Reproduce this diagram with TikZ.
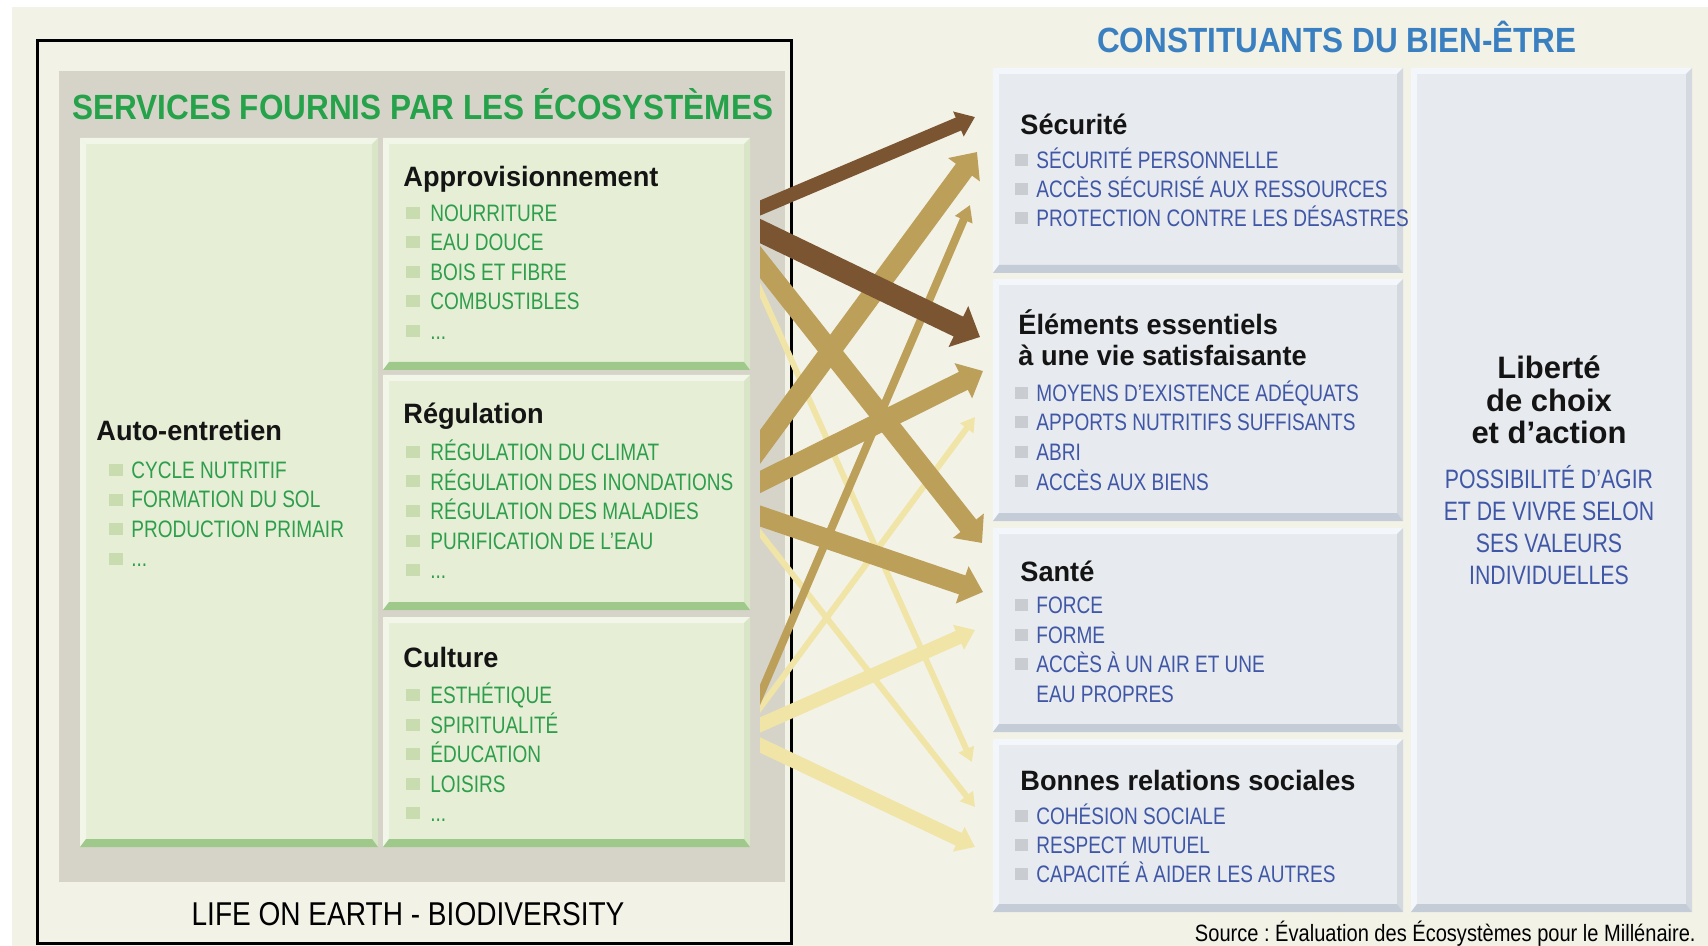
\documentclass[tikz,border=0pt]{standalone}
\usepackage{fontspec}
\setmainfont{Liberation Sans}
\newfontfamily\condfont[FakeStretch=0.8]{Liberation Sans}
\newfontfamily\titlefont[FakeStretch=0.9]{Liberation Sans}
\newfontfamily\headfont[FakeStretch=0.97]{Liberation Sans}
\newfontfamily\lifefont[FakeStretch=0.85]{Liberation Sans}
\usetikzlibrary{arrows.meta}
\frenchspacing

\definecolor{cream}{HTML}{F3F2E7}
\definecolor{panelgray}{HTML}{D6D4C8}
\definecolor{greenface}{HTML}{E6EFD6}
\definecolor{greenlight}{HTML}{F1F6E8}
\definecolor{greenside}{HTML}{D8E5C6}
\definecolor{greendark}{HTML}{9FC88B}
\definecolor{greenbullet}{HTML}{C8DCB0}
\definecolor{greentext}{HTML}{2E9E4C}
\definecolor{greentitle}{HTML}{25A24A}
\definecolor{blueface}{HTML}{E7EAEE}
\definecolor{bluelight}{HTML}{F3F6FA}
\definecolor{blueside}{HTML}{D4D9DF}
\definecolor{bluedark}{HTML}{C3CCD7}
\definecolor{bluebullet}{HTML}{C9CDD2}
\definecolor{bluetext}{HTML}{3F57A6}
\definecolor{bluetitle}{HTML}{3A80C0}
\definecolor{brownarrow}{HTML}{7B5532}
\definecolor{tanarrow}{HTML}{BC9F58}
\definecolor{palearrow}{HTML}{F0E4A6}

\newcommand{\threedots}{...}

% bevelled box: x1,y1,x2,y2,face,light,side,dark
\newcommand{\bevelbox}[8]{%
  \fill[#5] (#1,#2) rectangle (#3,#4);
  \fill[#6] (#1,#2) -- (#3,#2) -- (#3-6,#2+6) -- (#1+6,#2+6) -- cycle;
  \fill[#6] (#1,#2) -- (#1+6,#2+6) -- (#1+6,#4-8) -- (#1,#4) -- cycle;
  \fill[#7] (#3,#2) -- (#3,#4) -- (#3-6,#4-8) -- (#3-6,#2+6) -- cycle;
  \fill[#8] (#1,#4) -- (#1+6,#4-8) -- (#3-6,#4-8) -- (#3,#4) -- cycle;
}

\tikzset{
  bigtitle/.style={inner sep=0pt, font=\titlefont\fontsize{17.5}{20}\selectfont\bfseries},
  heading/.style={anchor=base west, inner sep=0pt, text=black!92, font=\headfont\fontsize{14}{16}\selectfont\bfseries},
  greenitem/.style={anchor=base west, inner sep=0pt, text=greentext, font=\condfont\fontsize{11.9}{14}\selectfont},
  blueitem/.style={anchor=base west, inner sep=0pt, text=bluetext, font=\condfont\fontsize{11.9}{14}\selectfont},
  bigarrow/.style={line width=10pt, shorten <=-8pt, -{Triangle[length=11pt,width=19pt]}},
  brownbig/.style={line width=11pt, shorten <=-8pt, -{Triangle[length=12pt,width=22pt]}},
  midarrow/.style={line width=7pt, shorten <=-8pt, -{Triangle[length=9pt,width=13pt]}},
  smallarrow/.style={line width=4pt, shorten <=-8pt, -{Triangle[length=8pt,width=9pt]}},
  thinarrow/.style={line width=3pt, shorten <=-8pt, -{Triangle[length=7pt,width=8pt]}}
}

\begin{document}
\begin{tikzpicture}[x=0.5pt,y=-0.5pt]
\useasboundingbox (0,0) rectangle (1708,946);
\fill[white] (0,0) rectangle (1708,946);
\fill[cream] (12,7) rectangle (1708,946);

% services fournis par les ecosystemes
\draw[line width=1.5pt] (37,41) rectangle (791,943);
\fill[panelgray] (59,71) rectangle (785,882);
\node[bigtitle, text=greentitle, anchor=base west] (services) at (72,120) {SERVICES FOURNIS PAR LES ÉCOSYSTÈMES};
\node[inner sep=0pt, anchor=base, font=\lifefont\fontsize{16.5}{18}\selectfont] (life) at (408,925) {LIFE ON EARTH - BIODIVERSITY};

\bevelbox{80}{138}{378}{847}{greenface}{greenlight}{greenside}{greendark}
\bevelbox{383}{138}{750}{370}{greenface}{greenlight}{greenside}{greendark}
\bevelbox{383}{375}{750}{610}{greenface}{greenlight}{greenside}{greendark}
\bevelbox{383}{617}{750}{847}{greenface}{greenlight}{greenside}{greendark}

\node[heading] (auto) at (96,441) {Auto-entretien};
\foreach \t [count=\i from 0] in {CYCLE NUTRITIF,FORMATION DU SOL,PRODUCTION PRIMAIR,\threedots} {
  \fill[greenbullet] (109,{464+29.5*\i}) rectangle (123,{476+29.5*\i});
  \node[greenitem] (auto-\i) at (131,{478.5+29.5*\i}) {\t};
}

\node[heading] (appro) at (403,187) {Approvisionnement};
\foreach \t [count=\i from 0] in {NOURRITURE,EAU DOUCE,BOIS ET FIBRE,COMBUSTIBLES,\threedots} {
  \fill[greenbullet] (406,{207+29.5*\i}) rectangle (420,{219+29.5*\i});
  \node[greenitem] (appro-\i) at (430,{221.5+29.5*\i}) {\t};
}

\node[heading] (regul) at (403,424) {Régulation};
\foreach \t [count=\i from 0] in {RÉGULATION DU CLIMAT,RÉGULATION DES INONDATIONS,RÉGULATION DES MALADIES,PURIFICATION DE L’EAU,\threedots} {
  \fill[greenbullet] (406,{446+29.5*\i}) rectangle (420,{458+29.5*\i});
  \node[greenitem] (regul-\i) at (430,{460.5+29.5*\i}) {\t};
}

\node[heading] (culture) at (403,667) {Culture};
\foreach \t [count=\i from 0] in {ESTHÉTIQUE,SPIRITUALITÉ,ÉDUCATION,LOISIRS,\threedots} {
  \fill[greenbullet] (406,{689+29.5*\i}) rectangle (420,{701+29.5*\i});
  \node[greenitem] (culture-\i) at (430,{703.5+29.5*\i}) {\t};
}

% constituants du bien-etre
\node[bigtitle, text=bluetitle, anchor=base east] (bienetre) at (1577,53) {CONSTITUANTS DU BIEN-ÊTRE};

\bevelbox{993}{68}{1403}{273}{blueface}{bluelight}{blueside}{bluedark}
\bevelbox{993}{279}{1403}{521}{blueface}{bluelight}{blueside}{bluedark}
\bevelbox{993}{528}{1403}{732}{blueface}{bluelight}{blueside}{bluedark}
\bevelbox{993}{739}{1403}{912}{blueface}{bluelight}{blueside}{bluedark}
\bevelbox{1411}{68}{1692}{912}{blueface}{bluelight}{blueside}{bluedark}

\node[heading] (secu) at (1020,135) {Sécurité};
\foreach \t [count=\i from 0] in {SÉCURITÉ PERSONNELLE,ACCÈS SÉCURISÉ AUX RESSOURCES,PROTECTION CONTRE LES DÉSASTRES} {
  \fill[bluebullet] (1015,{154+29*\i}) rectangle (1028,{166+29*\i});
  \node[blueitem] (secu-\i) at (1036,{168.5+29*\i}) {\t};
}

\node[heading] (elem) at (1018,335) {Éléments essentiels};
\node[heading] (elem-b) at (1018,366) {à une vie satisfaisante};
\foreach \t [count=\i from 0] in {MOYENS D’EXISTENCE ADÉQUATS,APPORTS NUTRITIFS SUFFISANTS,ABRI,ACCÈS AUX BIENS} {
  \fill[bluebullet] (1015,{387+29.5*\i}) rectangle (1028,{399+29.5*\i});
  \node[blueitem] (elem-\i) at (1036,{401.5+29.5*\i}) {\t};
}

\node[heading] (sante) at (1020,581) {Santé};
\foreach \t [count=\i from 0] in {FORCE,FORME,ACCÈS À UN AIR ET UNE} {
  \fill[bluebullet] (1015,{599+29.5*\i}) rectangle (1028,{611+29.5*\i});
  \node[blueitem] (sante-\i) at (1036,{613.5+29.5*\i}) {\t};
}
\node[blueitem] (sante-3) at (1036,702) {EAU PROPRES};

\node[heading] (bonnes) at (1020,790) {Bonnes relations sociales};
\foreach \t [count=\i from 0] in {COHÉSION SOCIALE,RESPECT MUTUEL,CAPACITÉ À AIDER LES AUTRES} {
  \fill[bluebullet] (1015,{810+29*\i}) rectangle (1028,{822+29*\i});
  \node[blueitem] (bonnes-\i) at (1036,{824.5+29*\i}) {\t};
}

\foreach \t [count=\i from 0] in {Liberté,de choix,et d’action}
  \node[inner sep=0pt, anchor=base, text=black!92, font=\fontsize{15.5}{18}\selectfont\bfseries] (liberte-\i) at (1549,{379+32.5*\i}) {\t};
\foreach \t [count=\i from 0] in {POSSIBILITÉ D’AGIR,ET DE VIVRE SELON,SES VALEURS,INDIVIDUELLES}
  \node[inner sep=0pt, anchor=base, text=bluetext, font=\condfont\fontsize{13.3}{16}\selectfont] (choix-\i) at (1549,{488.5+32*\i}) {\t};

\node[inner sep=0pt, anchor=base east, font=\lifefont\fontsize{11.8}{13}\selectfont] (source) at (1696,941) {Source : Évaluation des Écosystèmes pour le Millénaire.};

% arrow ends
\coordinate (appro-s1) at (760,208);  \coordinate (secu-e1) at (975,117);
\coordinate (appro-s2) at (760,231);  \coordinate (elem-e1) at (980,337);
\coordinate (appro-s3) at (760,262);  \coordinate (sante-e1) at (982,543);
\coordinate (appro-s4) at (760,290);  \coordinate (bonnes-e1) at (972,762);
\coordinate (regul-s1) at (760,447);  \coordinate (secu-e2) at (977,152);
\coordinate (regul-s2) at (760,482);  \coordinate (elem-e2) at (983,371);
\coordinate (regul-s3) at (760,516);  \coordinate (sante-e2) at (983,592);
\coordinate (regul-s4) at (760,533);  \coordinate (bonnes-e2) at (975,807);
\coordinate (culture-s1) at (760,695); \coordinate (secu-e3) at (970,205);
\coordinate (culture-s2) at (760,708); \coordinate (elem-e3) at (975,417);
\coordinate (culture-s3) at (760,725); \coordinate (sante-e3) at (975,630);
\coordinate (culture-s4) at (760,745); \coordinate (bonnes-e3) at (975,847);

\begin{scope}
  \clip (760,0) rectangle (1000,946);
  % weak links
  \draw[thinarrow, palearrow] (appro-s4) -- (bonnes-e1);
  \draw[thinarrow, palearrow] (regul-s4) -- (bonnes-e2);
  \draw[thinarrow, palearrow] (culture-s2) -- (elem-e3);
  \draw[midarrow, palearrow] (culture-s3) -- (sante-e3);
  \draw[midarrow, palearrow] (culture-s4) -- (bonnes-e3);
  % medium links
  \draw[smallarrow, tanarrow] (culture-s1) -- (secu-e3);
  \draw[bigarrow, tanarrow] (appro-s3) -- (sante-e1);
  \draw[bigarrow, tanarrow] (regul-s1) -- (secu-e2);
  \draw[bigarrow, tanarrow] (regul-s2) -- (elem-e2);
  \draw[bigarrow, tanarrow] (regul-s3) -- (sante-e2);
  % strong links
  \draw[midarrow, brownarrow] (appro-s1) -- (secu-e1);
  \draw[brownbig, brownarrow] (appro-s2) -- (elem-e1);
\end{scope}
\end{tikzpicture}
\end{document}
